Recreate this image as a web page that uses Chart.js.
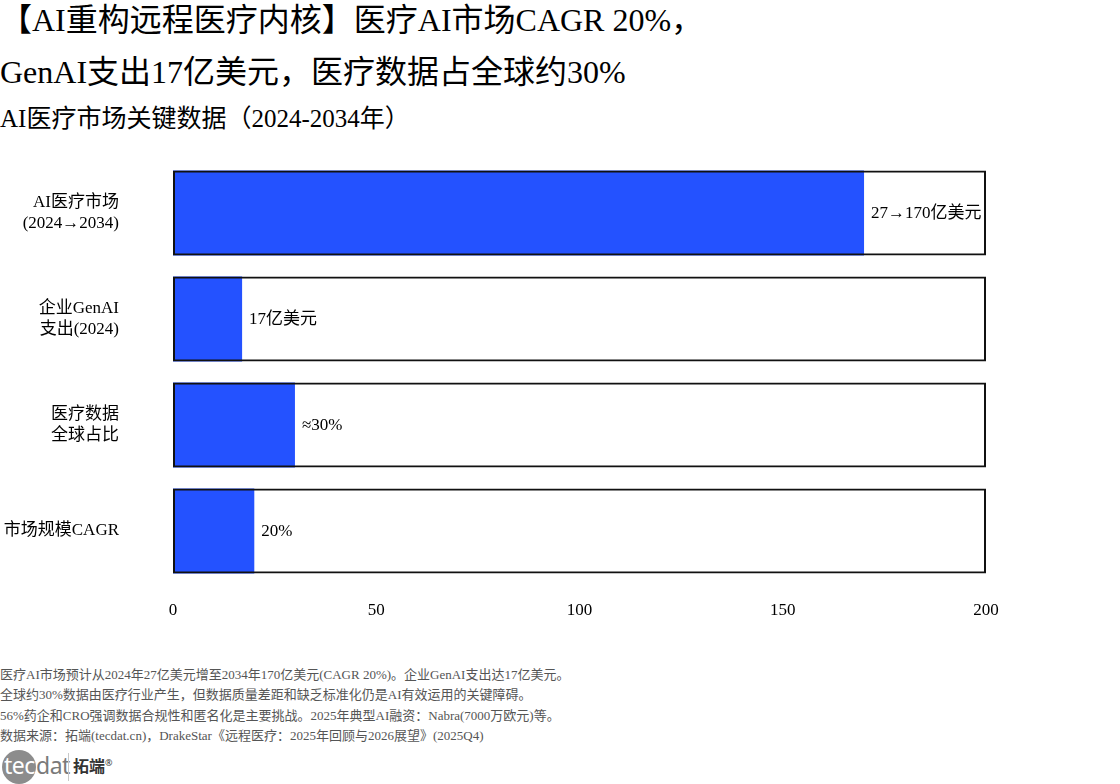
<!DOCTYPE html>
<html>
<head>
<meta charset="utf-8">
<script src="https://cdn.jsdelivr.net/npm/chart.js@4"></script>
<style>
  body { margin: 0; width: 1120px; height: 784px; background: #fff; position: relative; overflow: hidden;
         font-family: 'Liberation Serif', 'Noto Sans CJK SC', serif; color: #000; }
  .t1 { position: absolute; left: 0; top: -6px; font-size: 32px; line-height: 52px; white-space: nowrap; }
  .t2 { position: absolute; left: 0; top: 103px; font-size: 25px; line-height: 32px; white-space: nowrap; }
  .note { position: absolute; left: 0; top: 665px; font-size: 13px; line-height: 20.3px; color: #555; white-space: nowrap; }
  .logo { position: absolute; left: 0; top: 749px; height: 34px; font-family: 'Noto Sans', 'Noto Sans CJK SC', sans-serif; }
  .logo .c { position: absolute; left: 2px; top: 1px; width: 34px; height: 34px; border-radius: 50%; background: #8c8c8c; }
  .logo .w { position: absolute; left: 4px; top: 0px; font-size: 23px; color: #fff; letter-spacing: -0.5px; }
  .logo .d { position: absolute; left: 36px; top: 0px; font-size: 23px; color: #7a7a7a; letter-spacing: -0.5px; }
  .logo .bar { position: absolute; left: 68px; top: 4px; width: 1px; height: 28px; background: #c8c8c8; }
  .logo .cn { position: absolute; left: 73px; top: 4px; font-size: 16px; font-weight: bold; color: #333; white-space: nowrap; }
  .logo .cn sup { font-size: 9px; font-weight: normal; }
  #myChart { position: absolute; left: 0; top: 150px; }
</style>
</head>
<body>
<div class="t1">【AI重构远程医疗内核】医疗AI市场CAGR 20%，<br>GenAI支出17亿美元，医疗数据占全球约30%</div>
<div class="t2">AI医疗市场关键数据（2024-2034年）</div>
<canvas id="myChart" width="1120" height="480"></canvas>
<div class="note">医疗AI市场预计从2024年27亿美元增至2034年170亿美元(CAGR 20%)。企业GenAI支出达17亿美元。<br>全球约30%数据由医疗行业产生，但数据质量差距和缺乏标准化仍是AI有效运用的关键障碍。<br>56%药企和CRO强调数据合规性和匿名化是主要挑战。2025年典型AI融资：Nabra(7000万欧元)等。<br>数据来源：拓端(tecdat.cn)，DrakeStar《远程医疗：2025年回顾与2026展望》(2025Q4)</div>
<div class="logo"><div class="c"></div><span class="w">tec</span><span class="d">dat</span><div class="bar"></div><span class="cn">拓端<sup>®</sup></span></div>
<script>
var categories = [['AI医疗市场', '(2024→2034)'], ['企业GenAI', '支出(2024)'], ['医疗数据', '全球占比'], '市场规模CAGR'];
var values = [170, 17, 30, 20];
var valueLabels = ['27→170亿美元', '17亿美元', '≈30%', '20%'];
var trackMax = [200, 200, 200, 200];
var xMin = 0, xMax = 200, xStep = 50;

var fontFamily = "'Liberation Serif', 'Noto Sans CJK SC', serif";

var valueLabelPlugin = {
  id: 'valueLabels',
  afterDatasetsDraw: function(chart) {
    var meta = chart.getDatasetMeta(1);
    var ctx = chart.ctx;
    ctx.save();
    ctx.font = '17px ' + fontFamily;
    ctx.fillStyle = '#000';
    ctx.textAlign = 'left';
    ctx.textBaseline = 'middle';
    meta.data.forEach(function(bar, i) {
      ctx.fillText(valueLabels[i], bar.x + 7, bar.y + 1);
    });
    ctx.restore();
  }
};

var ctx = document.getElementById('myChart');
var barChart = new Chart(ctx, {
  type: 'bar',
  data: {
    labels: categories,
    datasets: [{
      label: 'frame',
      data: trackMax,
      backgroundColor: 'rgba(0,0,0,0)',
      borderColor: '#111',
      borderWidth: 2,
      borderSkipped: false,
      grouped: false,
      order: 0,
      barPercentage: 0.8,
      categoryPercentage: 1
    }, {
      label: 'value',
      data: values,
      backgroundColor: '#2452ff',
      borderWidth: 0,
      grouped: false,
      order: 1,
      barPercentage: 0.8,
      categoryPercentage: 1
    }, {
      label: 'track',
      data: trackMax,
      backgroundColor: '#ffffff',
      borderWidth: 0,
      grouped: false,
      order: 2,
      barPercentage: 0.8,
      categoryPercentage: 1
    }]
  },
  options: {
    indexAxis: 'y',
    responsive: false,
    animation: false,
    layout: { padding: { top: 10, right: 134, bottom: 0, left: 0 } },
    plugins: {
      legend: { display: false },
      tooltip: { enabled: false }
    },
    scales: {
      x: {
        min: xMin,
        max: xMax,
        grid: { display: false, drawTicks: false },
        border: { display: false },
        ticks: { stepSize: xStep, padding: 16, color: '#000', font: { family: fontFamily, size: 17 } },
        afterFit: function(scale) { scale.height = 46; scale.paddingLeft = 0; scale.paddingRight = 0; }
      },
      y: {
        grid: { display: false, drawTicks: false },
        border: { display: false },
        ticks: { padding: 54, color: '#000', font: { family: fontFamily, size: 17, lineHeight: 1.2 } },
        afterFit: function(scale) { scale.width = 173; scale.paddingTop = 0; scale.paddingBottom = 0; }
      }
    }
  },
  plugins: [valueLabelPlugin]
});
</script>
</body>
</html>
